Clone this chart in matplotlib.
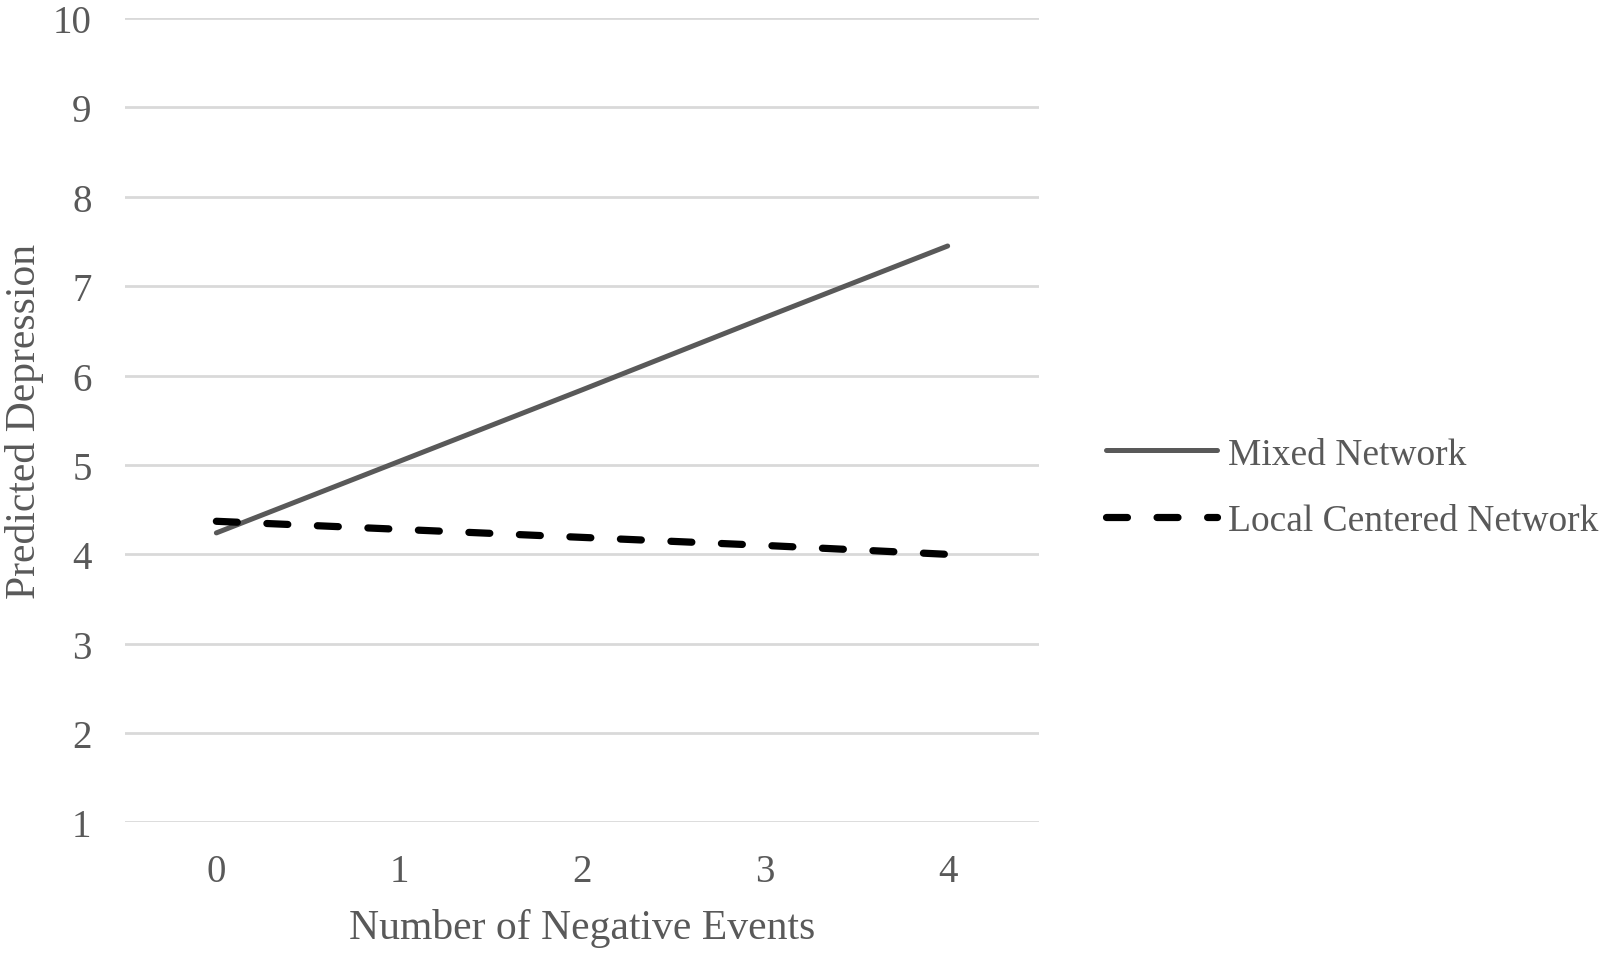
import numpy as np
import matplotlib
matplotlib.use('Agg')
import matplotlib.pyplot as plt

# data
events = [0, 1, 2, 3, 4]
mixed = [4.24, 5.04, 5.84, 6.65, 7.45]
local = [4.37, 4.28, 4.19, 4.10, 4.00]
yticks = [1, 2, 3, 4, 5, 6, 7, 8, 9, 10]

plt.rcParams['font.family'] = ['Liberation Serif', 'DejaVu Serif']
txt = '#595959'

fig = plt.figure(figsize=(16.02, 9.54), dpi=100)
ax = fig.add_axes([0.078, 0.1368, 0.5706, 0.8432])

l1, = ax.plot(events, mixed, color='#595959', lw=3.6, solid_capstyle='round',
              label='Mixed Network', zorder=3)
l2, = ax.plot(events, local, color='black', lw=5.2, linestyle=(0, (2.9, 4.1)),
              dash_capstyle='round', label='Local Centered Network', zorder=3)

ax.set_xlim(-0.5, 4.5)
ax.set_ylim(1, 10)
ax.set_xticks(events)
ax.set_yticks(yticks)
ax.grid(axis='y', color='#d9d9d9', lw=2)
ax.set_axisbelow(True)
for s in ax.spines.values():
    s.set_visible(False)
ax.tick_params(axis='both', length=0, labelsize=28, labelcolor=txt)
ax.tick_params(axis='y', pad=24)
ax.tick_params(axis='x', pad=22)

ax.set_xlabel('Number of Negative Events', fontsize=30, color=txt, labelpad=13)
ax.set_ylabel('Predicted Depression', fontsize=30, color=txt, labelpad=6)

fig.legend(handles=[l1, l2], loc='center left', bbox_to_anchor=(0.681, 0.488),
           frameon=False, fontsize=27, labelcolor=txt, handlelength=2.95,
           handletextpad=0.3, labelspacing=0.85, borderaxespad=0)

plt.savefig('out.png', dpi=100)
